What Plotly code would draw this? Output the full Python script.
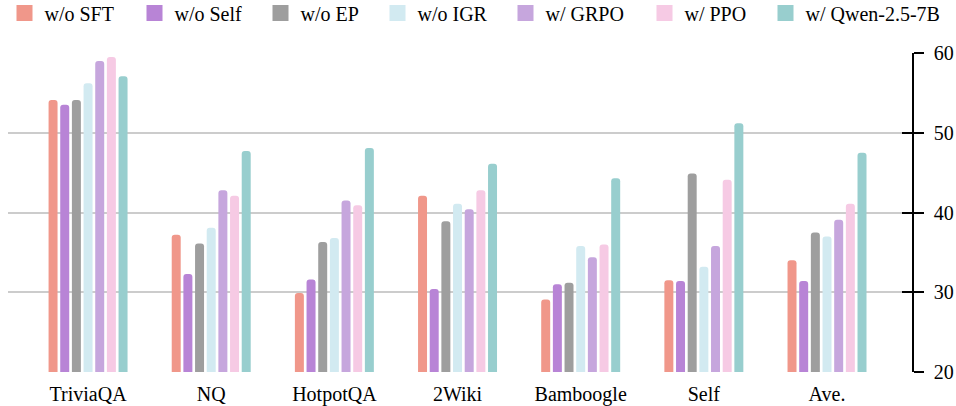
import plotly.graph_objects as go

categories = ["TriviaQA", "NQ", "HotpotQA", "2Wiki", "Bamboogle", "Self", "Ave."]
series_names = ["w/o SFT", "w/o Self", "w/o EP", "w/o IGR", "w/ GRPO", "w/ PPO", "w/ Qwen-2.5-7B"]
wo_sft = [54.1, 37.2, 29.9, 42.1, 29.1, 31.5, 34.0]
wo_self = [53.5, 32.3, 31.6, 30.4, 31.0, 31.4, 31.4]
wo_ep = [54.1, 36.1, 36.3, 38.9, 31.2, 44.9, 37.5]
wo_igr = [56.2, 38.1, 36.8, 41.1, 35.8, 33.2, 37.0]
w_grpo = [59.0, 42.8, 41.5, 40.4, 34.4, 35.8, 39.1]
w_ppo = [59.5, 42.1, 40.9, 42.8, 36.0, 44.1, 41.1]
w_qwen = [57.1, 47.7, 48.1, 46.1, 44.3, 51.2, 47.5]
y_ticks = [20, 30, 40, 50, 60]

colors = ["#F0978A", "#B884D6", "#9E9E9E", "#D2EAF1", "#C6A6DD", "#F6CAE4", "#98CECE"]
series = [wo_sft, wo_self, wo_ep, wo_igr, w_grpo, w_ppo, w_qwen]
legend_left_px = [16, 146, 272, 389, 517, 656, 777]

FONT = "Liberation Serif"
W, H = 956, 406

fig = go.Figure()
legend_layouts = {}
for i, (name, vals, col) in enumerate(zip(series_names, series, colors)):
    lid = f"legend{i + 2}"
    fig.add_trace(go.Bar(
        x=categories, y=vals, name=name, showlegend=False,
        marker=dict(color=col, line=dict(width=0)),
    ))
    fig.add_trace(go.Scatter(
        x=[categories[0]], y=[None], name=name, legend=lid, mode="markers",
        marker=dict(symbol="square", size=16, color=col, line=dict(width=0)),
        hoverinfo="skip",
    ))
    legend_layouts[lid] = dict(
        orientation="h", xref="container", yref="container",
        x=(legend_left_px[i] + 8.5 - 20) / W, xanchor="left",
        y=1 - 13 / H, yanchor="middle", itemsizing="trace",
        font=dict(family=FONT, size=20, color="black"),
        bgcolor="rgba(0,0,0,0)", borderwidth=0,
    )

fig.add_trace(go.Scatter(x=[categories[0]], y=[None], yaxis="y2", showlegend=False,
                         hoverinfo="skip"))

fig.update_layout(
    width=W, height=H,
    margin=dict(l=8, r=44, t=53, b=34, autoexpand=False),
    plot_bgcolor="white", paper_bgcolor="white",
    barmode="group", bargap=0.337, bargroupgap=0.23,
    barcornerradius=3,
    font=dict(family=FONT, size=20, color="black"),
    legend=dict(visible=False),
    xaxis=dict(range=[-0.65, 6.69], showgrid=False, showline=False, ticks="",
               automargin=False, ticklabelstandoff=8,
               tickfont=dict(family=FONT, size=20)),
    yaxis=dict(range=[20, 60], side="right", tickvals=y_ticks, showgrid=True,
               gridcolor="#CCCCCC", gridwidth=1.5, zeroline=False,
               showline=True, linecolor="black", linewidth=1.5, automargin=False,
               ticks="outside", ticklen=10, tickwidth=1.5, tickcolor="black",
               ticklabelstandoff=6, tickfont=dict(family=FONT, size=20)),
    yaxis2=dict(range=[20, 60], side="right", overlaying="y", anchor="x",
                tickvals=y_ticks, showticklabels=False, showgrid=False,
                zeroline=False, showline=False, automargin=False,
                ticks="inside", ticklen=10, tickwidth=1.5, tickcolor="black"),
    **legend_layouts,
)

fig.write_html("out.html", config={"displayModeBar": False},
               post_script="document.body.style.margin='0';")
